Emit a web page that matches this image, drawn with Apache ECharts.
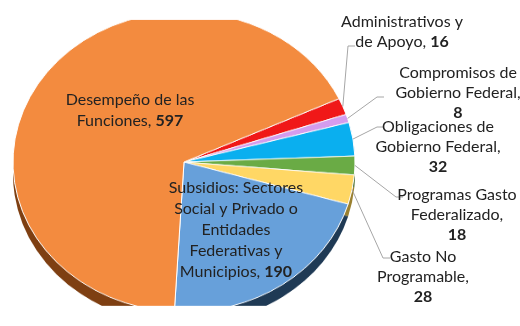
<!DOCTYPE html>
<html><head><meta charset="utf-8">
<script src="https://cdn.jsdelivr.net/npm/echarts@6/dist/echarts.min.js"></script>
<style>
html,body{margin:0;padding:0;background:#fff;}
#wrap{position:relative;width:520px;height:326px;overflow:hidden;background:#fff;}
#back,#front{position:absolute;left:0;top:0;width:520px;height:326px;}
#back{transform:scaleY(0.877);transform-origin:184px 162px;}
</style></head><body>
<div id="wrap"><div id="back"></div><div id="front"></div></div>
<script>
// ---- data ----
const categories = [
  'Administrativos y de Apoyo',
  'Compromisos de Gobierno Federal',
  'Obligaciones de Gobierno Federal',
  'Programas Gasto Federalizado',
  'Gasto No Programable',
  'Subsidios: Sectores Social y Privado o Entidades Federativas y Municipios',
  'Desempeño de las Funciones'
];
const values = [16, 8, 32, 18, 28, 190, 597];
// label text, one entry per category ({v} = value)
const labelTexts = [
  'Administrativos y\nde Apoyo, {v}',
  'Compromisos de\nGobierno Federal,\n{v}',
  'Obligaciones de\nGobierno Federal,\n{v}',
  'Programas Gasto\nFederalizado,\n{v}',
  'Gasto No\nProgramable,\n{v}',
  'Subsidios: Sectores\nSocial y Privado o\nEntidades\nFederativas y\nMunicipios, {v}',
  'Desempeño de las\nFunciones, {v}'
];
const insideLabel = [false, false, false, false, false, true, true];

// ---- styling / layout ----
const topColors  = ['#F01818', '#D49CEE', '#0AAFEF', '#6AAB45', '#FFD765', '#67A0DA', '#F38B3F'];
const sideColors = ['#8A0A0A', '#7A5A8A', '#06678C', '#3E6628', '#9A8030', '#1F3A55', '#7E3F12'];
const CX = 184, CY = 162, R = 171, K = 0.877, DEPTH = 14, START = 25;
const labelPos = [[402, 32], [458, 93], [438, 147], [457, 215], [423, 277], [236, 230], [130, 110]];
const lineEnds = [[355, 46], [384, 97], [384, 127], [403, 197], [390, 258], null, null];
const FONT = 'Lato';
const FS = 16;

const back = echarts.init(document.getElementById('back'), null, {renderer: 'canvas'});
back.setOption({
  animation: false,
  series: [
    {
      type: 'pie', silent: true, center: [CX, CY + DEPTH], radius: R, startAngle: START,
      label: {show: false}, labelLine: {show: false},
      itemStyle: {borderWidth: 0},
      data: values.map((v, i) => ({name: categories[i], value: v, itemStyle: {color: sideColors[i]}}))
    },
    {
      type: 'pie', silent: true, center: [CX, CY], radius: R, startAngle: START,
      label: {show: false}, labelLine: {show: false},
      itemStyle: {borderWidth: 1, borderColor: '#ffffff'},
      data: values.map((v, i) => ({name: categories[i], value: v, itemStyle: {color: topColors[i]}}))
    }
  ]
});

function richText(i) {
  const inside = insideLabel[i];
  const t = inside ? 'ti' : 't', b = inside ? 'bi' : 'b';
  return labelTexts[i].split('\n').map(line => {
    const parts = line.split('{v}');
    let s = '';
    if (parts[0]) s += '{' + t + '|' + parts[0] + '}';
    if (parts.length > 1) s += '{' + b + '|' + values[i] + '}';
    return s;
  }).join('\n');
}

const front = echarts.init(document.getElementById('front'), null, {renderer: 'canvas'});
front.setOption({
  animation: false,
  series: [{
    type: 'pie', silent: true, center: [CX, CY], radius: R, startAngle: START,
    avoidLabelOverlap: false,
    itemStyle: {color: 'rgba(0,0,0,0)', borderWidth: 0},
    label: {
      show: true, position: 'outside', align: 'center', overflow: 'none',
      formatter: p => richText(p.dataIndex),
      rich: {
        t:  {fontFamily: FONT, fontSize: FS, color: '#222', lineHeight: 20, align: 'center'},
        b:  {fontFamily: FONT, fontSize: FS, color: '#222', lineHeight: 20, fontWeight: 'bold', align: 'center'},
        ti: {fontFamily: FONT, fontSize: FS, color: '#222', lineHeight: 21, align: 'center'},
        bi: {fontFamily: FONT, fontSize: FS, color: '#222', lineHeight: 21, fontWeight: 'bold', align: 'center'}
      }
    },
    labelLine: {show: false, lineStyle: {color: '#A6A6A6', width: 1}},
    labelLayout: function (params) {
      const i = params.dataIndex;
      const p = labelPos[i];
      const out = {x: p[0], y: p[1], align: 'center', verticalAlign: 'middle'};
      const e = lineEnds[i];
      if (e && params.labelLinePoints) {
        const s = params.labelLinePoints[0];
        const sy = CY + (s[1] - CY) * K;
        out.labelLinePoints = [[s[0], sy], [e[0] - 7, e[1]], [e[0], e[1]]];
      }
      return out;
    },
    data: values.map((v, i) => ({
      name: categories[i], value: v,
      label: {position: insideLabel[i] ? 'inside' : 'outside'},
      labelLine: {show: !insideLabel[i]}
    }))
  }]
});
</script>
</body></html>
